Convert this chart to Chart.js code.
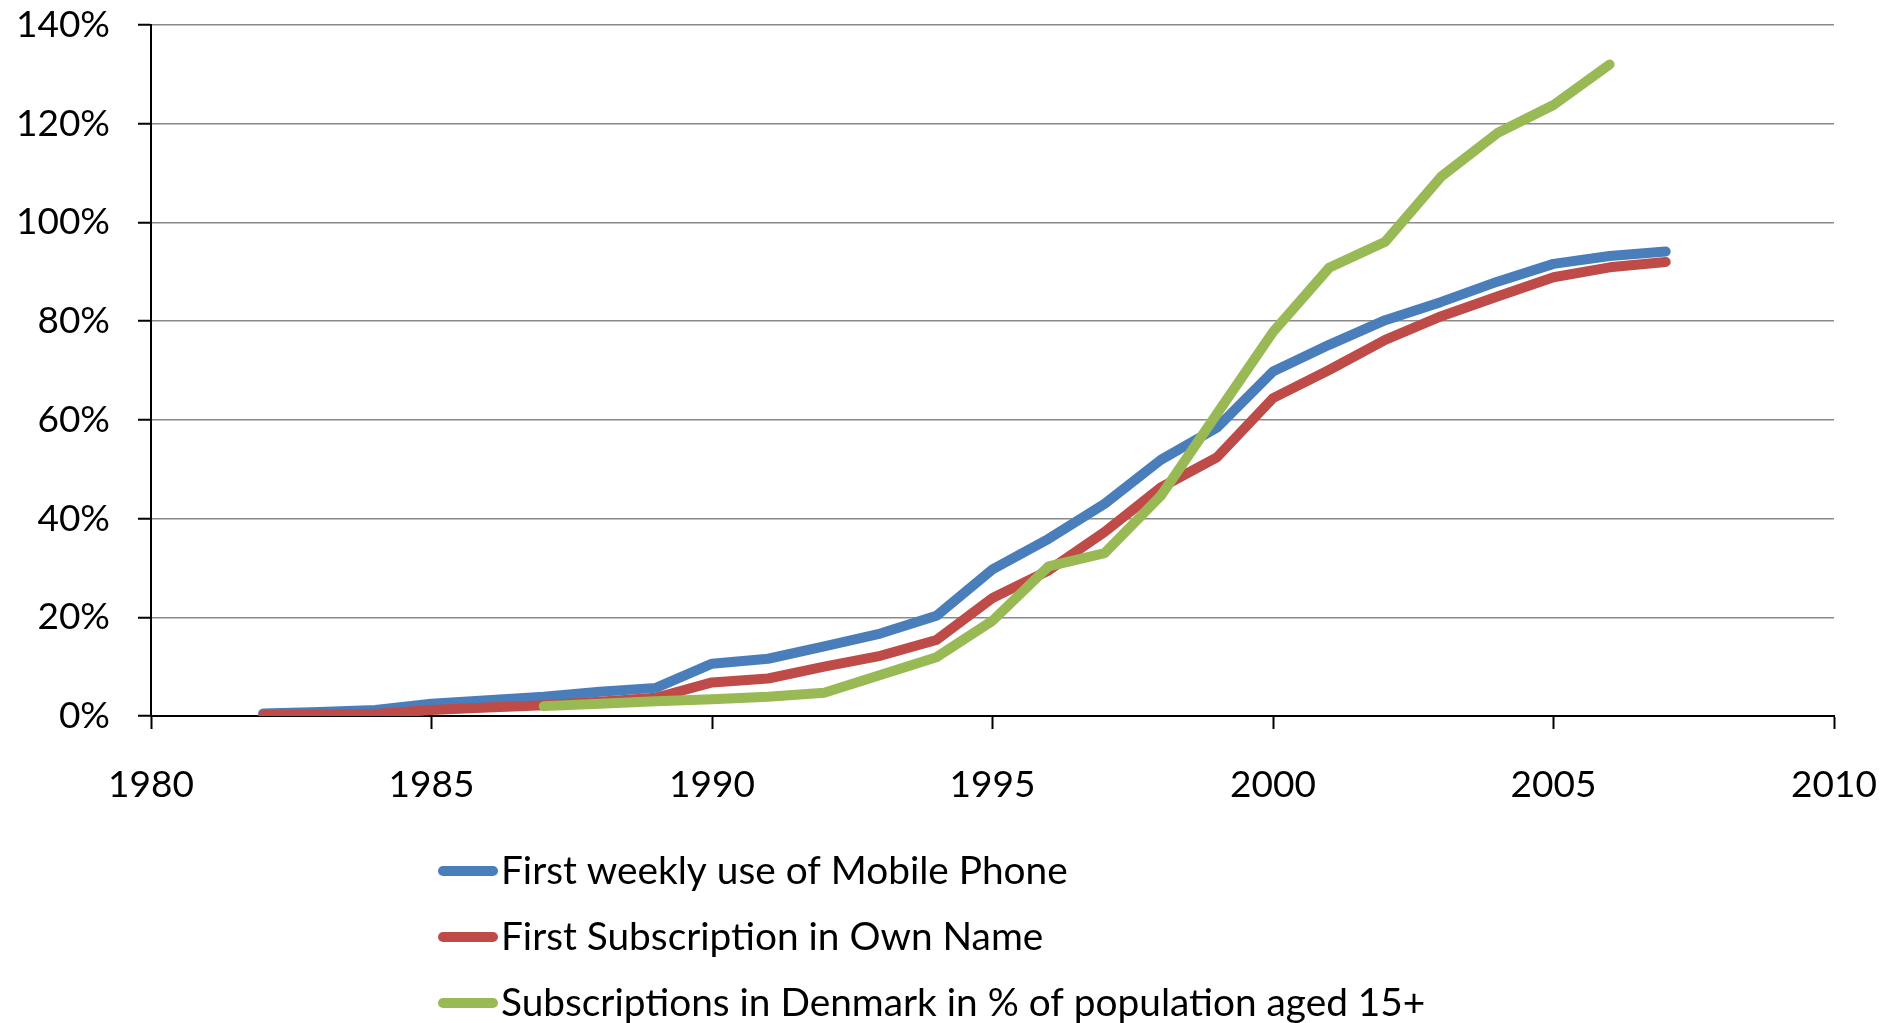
<!DOCTYPE html>
<html>
<head>
<meta charset="utf-8">
<title>Mobile phone adoption in Denmark</title>
<script src="https://cdn.jsdelivr.net/npm/chart.js@4.4.1/dist/chart.umd.min.js"></script>
<style>
  html, body { margin: 0; padding: 0; background: #ffffff; overflow: hidden; }
  #wrap { position: relative; width: 1897px; height: 1023px; }
</style>
</head>
<body>
<div id="wrap"><canvas id="chart" width="1897" height="1023"></canvas></div>
<script>
// Survey years for the two cohort series
const years = [1982, 1983, 1984, 1985, 1986, 1987, 1988, 1989, 1990, 1991, 1992, 1993, 1994,
               1995, 1996, 1997, 1998, 1999, 2000, 2001, 2002, 2003, 2004, 2005, 2006, 2007];
// Share of respondents (%) with first weekly use of a mobile phone
const weeklyUse = [0.5, 0.8, 1.2, 2.5, 3.2, 3.9, 4.9, 5.7, 10.6, 11.6, 14.1, 16.7, 20.3,
                   29.7, 35.9, 43.0, 51.9, 58.4, 69.8, 75.2, 80.2, 83.9, 88.0, 91.6, 93.2, 94.1];
// Share of respondents (%) with a first subscription in their own name
const ownSubscription = [0.2, 0.3, 0.4, 1.2, 1.7, 2.2, 2.9, 3.7, 6.8, 7.6, 10.0, 12.2, 15.4,
                         23.9, 29.5, 37.3, 46.3, 52.4, 64.4, 70.1, 76.2, 81.0, 85.0, 88.9, 90.9, 92.0];
// National subscription statistics
const subsYears = [1987, 1988, 1989, 1990, 1991, 1992, 1993, 1994, 1995, 1996,
                   1997, 1998, 1999, 2000, 2001, 2002, 2003, 2004, 2005, 2006];
const subscriptionsDK = [2.0, 2.5, 3.0, 3.4, 3.9, 4.7, 8.3, 11.9, 19.3, 30.3,
                         33.0, 44.6, 61.2, 77.8, 90.8, 96.1, 109.3, 118.1, 123.8, 132.0];

const seriesLabels = [
  'First weekly use of Mobile Phone',
  'First Subscription in Own Name',
  'Subscriptions in Denmark in % of population aged 15+'
];
const seriesColors = ['#4A7EBB', '#BE4B48', '#98B954'];

const xTicks = [1980, 1985, 1990, 1995, 2000, 2005, 2010];
const yTicks = [0, 20, 40, 60, 80, 100, 120, 140];

const FONT = 'Lato, "Liberation Sans", sans-serif';
const TICK_SIZE = 37;
const LEGEND_SIZE = 38.8;

const toPoints = (xs, ys) => xs.map((x, i) => ({ x: x, y: ys[i] }));

// Legend stacked below the plot, one series per row
const stackedLegend = {
  id: 'stackedLegend',
  afterDraw(chart) {
    const ctx = chart.ctx;
    const x0 = 438, x1 = 498, textX = 501;
    const rowY = [871, 937, 1003];
    ctx.save();
    chart.data.datasets.forEach((ds, i) => {
      const y = rowY[i];
      ctx.strokeStyle = ds.borderColor;
      ctx.lineWidth = 10;
      ctx.lineCap = 'round';
      ctx.beginPath();
      ctx.moveTo(x0 + 5, y);
      ctx.lineTo(x1 - 5, y);
      ctx.stroke();
      ctx.fillStyle = '#000000';
      ctx.font = LEGEND_SIZE + 'px ' + FONT;
      ctx.textAlign = 'left';
      ctx.textBaseline = 'middle';
      ctx.fillText(ds.label, textX, y);
    });
    ctx.restore();
  }
};

const lineStyle = (i) => ({
  label: seriesLabels[i],
  borderColor: seriesColors[i],
  backgroundColor: seriesColors[i],
  borderWidth: 10,
  borderCapStyle: 'round',
  borderJoinStyle: 'round',
  pointRadius: 0,
  pointHoverRadius: 0,
  tension: 0,
  fill: false
});

new Chart(document.getElementById('chart'), {
  type: 'line',
  data: {
    datasets: [
      Object.assign(lineStyle(0), { data: toPoints(years, weeklyUse), order: 2 }),
      Object.assign(lineStyle(1), { data: toPoints(years, ownSubscription), order: 1 }),
      Object.assign(lineStyle(2), { data: toPoints(subsYears, subscriptionsDK), order: 0 })
    ]
  },
  options: {
    responsive: false,
    animation: false,
    devicePixelRatio: 1,
    layout: { autoPadding: false, padding: { top: 25, right: 63, left: 0, bottom: 0 } },
    plugins: {
      legend: { display: false },
      tooltip: { enabled: false }
    },
    scales: {
      x: {
        type: 'linear',
        min: 1980,
        max: 2010,
        afterBuildTicks: (scale) => { scale.ticks = xTicks.map(v => ({ value: v })); },
        afterFit: (scale) => {
          scale.height = 307;
          scale.paddingLeft = 0;
          scale.paddingRight = 0;
        },
        ticks: {
          callback: (v) => String(v),
          color: '#000000',
          font: { family: FONT, size: TICK_SIZE },
          padding: 34,
          maxRotation: 0,
          autoSkip: false
        },
        grid: {
          drawOnChartArea: false,
          drawTicks: true,
          tickLength: 13,
          tickColor: '#000000',
          tickWidth: 2
        },
        border: { color: '#000000', width: 2 }
      },
      y: {
        type: 'linear',
        min: 0,
        max: 140,
        afterBuildTicks: (scale) => { scale.ticks = yTicks.map(v => ({ value: v })); },
        afterFit: (scale) => {
          scale.width = 151;
          scale.paddingTop = 0;
          scale.paddingBottom = 0;
        },
        ticks: {
          callback: (v) => v + '%',
          color: '#000000',
          font: { family: FONT, size: TICK_SIZE },
          padding: 28
        },
        grid: {
          color: '#8a8a8a',
          lineWidth: 1.5,
          drawTicks: true,
          tickLength: 13,
          tickColor: '#000000',
          tickWidth: 2
        },
        border: { color: '#000000', width: 2 }
      }
    }
  },
  plugins: [stackedLegend]
});
</script>
</body>
</html>
